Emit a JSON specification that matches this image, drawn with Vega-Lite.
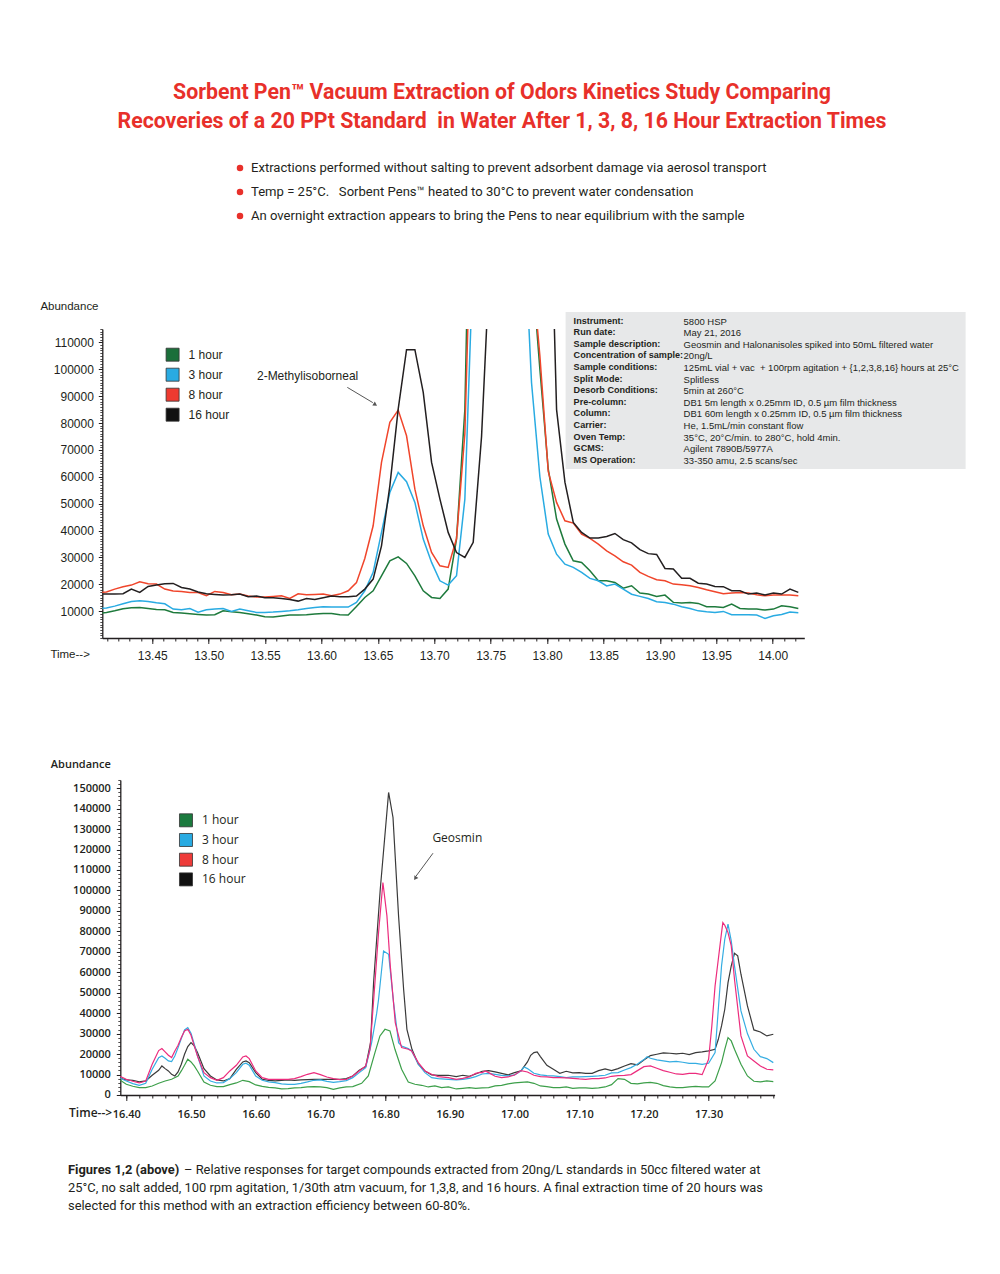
{
"$schema": "https://vega.github.io/schema/vega-lite/v6.json",
"background": "white",
"padding": {"left": 38.3, "top": 81, "right": 5, "bottom": 5},
"config": {"view": {"stroke": null}, "axis": {"grid": false}},
"title": {
  "text": ["Sorbent Pen™ Vacuum Extraction of Odors Kinetics Study Comparing", "Recoveries of a 20 PPt Standard\u00a0 in Water After 1, 3, 8, 16 Hour Extraction Times"],
  "anchor": "middle", "frame": "bounds",
  "font": "Roboto, sans-serif",
  "fontSize": 21.3, "fontWeight": "bold", "color": "#e8302a", "lineHeight": 29, "offset": 24
},
"datasets": {
  "bullets": [
    {"b": "Extractions performed without salting to prevent adsorbent damage via aerosol transport"},
    {"b": "Temp = 25°C.\u00a0\u00a0 Sorbent Pens™ heated to 30°C to prevent water condensation"},
    {"b": "An overnight extraction appears to bring the Pens to near equilibrium with the sample"}
  ],
  "series": [{"s": "1 hour"}, {"s": "3 hour"}, {"s": "8 hour"}, {"s": "16 hour"}],
  "top1": [{"t":13.4020,"v":9140},{"t":13.4094,"v":9520},{"t":13.4167,"v":10140},{"t":13.4241,"v":10880},{"t":13.4315,"v":11250},{"t":13.4389,"v":11380},{"t":13.4463,"v":11000},{"t":13.4537,"v":10630},{"t":13.4611,"v":10510},{"t":13.4685,"v":9520},{"t":13.4759,"v":9270},{"t":13.4833,"v":9020},{"t":13.4906,"v":8770},{"t":13.4980,"v":8520},{"t":13.5054,"v":8650},{"t":13.5128,"v":10140},{"t":13.5202,"v":9760},{"t":13.5276,"v":9520},{"t":13.5350,"v":9020},{"t":13.5424,"v":8520},{"t":13.5498,"v":7900},{"t":13.5571,"v":7780},{"t":13.5645,"v":8150},{"t":13.5719,"v":8520},{"t":13.5793,"v":8520},{"t":13.5867,"v":8650},{"t":13.5941,"v":8900},{"t":13.6015,"v":9140},{"t":13.6089,"v":9140},{"t":13.6163,"v":8650},{"t":13.6237,"v":8520},{"t":13.6310,"v":11700},{"t":13.6384,"v":15100},{"t":13.6458,"v":17570},{"t":13.6532,"v":23150},{"t":13.6606,"v":28730},{"t":13.6680,"v":30220},{"t":13.6754,"v":27760},{"t":13.6828,"v":23150},{"t":13.6902,"v":17570},{"t":13.6976,"v":15100},{"t":13.7050,"v":14730},{"t":13.7123,"v":18200},{"t":13.7197,"v":36800},{"t":13.7271,"v":85000},{"t":13.7345,"v":235000},{"t":13.7567,"v":400000},{"t":13.7862,"v":140000},{"t":13.7936,"v":100000},{"t":13.8010,"v":62900},{"t":13.8084,"v":44250},{"t":13.8158,"v":34950},{"t":13.8232,"v":28730},{"t":13.8306,"v":28140},{"t":13.8380,"v":25010},{"t":13.8454,"v":21290},{"t":13.8528,"v":21290},{"t":13.8601,"v":20690},{"t":13.8675,"v":18570},{"t":13.8749,"v":19430},{"t":13.8823,"v":16710},{"t":13.8897,"v":16340},{"t":13.8971,"v":15480},{"t":13.9045,"v":15970},{"t":13.9119,"v":13250},{"t":13.9193,"v":12990},{"t":13.9267,"v":13250},{"t":13.9340,"v":12880},{"t":13.9414,"v":11610},{"t":13.9488,"v":11610},{"t":13.9562,"v":11390},{"t":13.9636,"v":12620},{"t":13.9710,"v":11020},{"t":13.9784,"v":10760},{"t":13.9858,"v":10760},{"t":13.9932,"v":10380},{"t":14.0006,"v":10760},{"t":14.0079,"v":11980},{"t":14.0153,"v":11610},{"t":14.0227,"v":11020}],
  "top3": [{"t":13.4020,"v":11000},{"t":13.4094,"v":11130},{"t":13.4167,"v":11870},{"t":13.4241,"v":12740},{"t":13.4315,"v":13610},{"t":13.4389,"v":13860},{"t":13.4463,"v":13610},{"t":13.4537,"v":13110},{"t":13.4611,"v":12740},{"t":13.4685,"v":10760},{"t":13.4759,"v":10510},{"t":13.4833,"v":11000},{"t":13.4906,"v":9640},{"t":13.4980,"v":10510},{"t":13.5054,"v":10760},{"t":13.5128,"v":11000},{"t":13.5202,"v":9890},{"t":13.5276,"v":10760},{"t":13.5350,"v":10140},{"t":13.5424,"v":9520},{"t":13.5498,"v":9520},{"t":13.5571,"v":9640},{"t":13.5645,"v":9890},{"t":13.5719,"v":10140},{"t":13.5793,"v":10510},{"t":13.5867,"v":11000},{"t":13.5941,"v":11380},{"t":13.6015,"v":11620},{"t":13.6089,"v":11500},{"t":13.6163,"v":11500},{"t":13.6237,"v":11500},{"t":13.6310,"v":13250},{"t":13.6384,"v":17570},{"t":13.6458,"v":24420},{"t":13.6532,"v":39300},{"t":13.6606,"v":54200},{"t":13.6680,"v":61640},{"t":13.6754,"v":58170},{"t":13.6828,"v":50470},{"t":13.6902,"v":36800},{"t":13.6976,"v":28140},{"t":13.7050,"v":21290},{"t":13.7123,"v":19690},{"t":13.7197,"v":23150},{"t":13.7271,"v":51700},{"t":13.7345,"v":142000},{"t":13.7567,"v":400000},{"t":13.7789,"v":160000},{"t":13.7862,"v":95000},{"t":13.7936,"v":60000},{"t":13.8010,"v":38700},{"t":13.8084,"v":31200},{"t":13.8158,"v":27500},{"t":13.8232,"v":26300},{"t":13.8306,"v":24400},{"t":13.8380,"v":22200},{"t":13.8454,"v":21300},{"t":13.8528,"v":19400},{"t":13.8601,"v":20100},{"t":13.8675,"v":18200},{"t":13.8749,"v":16300},{"t":13.8823,"v":15500},{"t":13.8897,"v":14700},{"t":13.8971,"v":13500},{"t":13.9045,"v":13200},{"t":13.9119,"v":12600},{"t":13.9193,"v":11600},{"t":13.9267,"v":11000},{"t":13.9340,"v":10100},{"t":13.9414,"v":9750},{"t":13.9488,"v":9500},{"t":13.9562,"v":9900},{"t":13.9636,"v":8640},{"t":13.9710,"v":8640},{"t":13.9784,"v":8640},{"t":13.9858,"v":8520},{"t":13.9932,"v":7290},{"t":14.0006,"v":8270},{"t":14.0079,"v":8770},{"t":14.0153,"v":9700},{"t":14.0227,"v":9400}],
  "top8": [{"t":13.4020,"v":16960},{"t":13.4094,"v":17100},{"t":13.4167,"v":18200},{"t":13.4241,"v":19070},{"t":13.4315,"v":19690},{"t":13.4389,"v":20930},{"t":13.4463,"v":20190},{"t":13.4537,"v":20060},{"t":13.4611,"v":18200},{"t":13.4685,"v":17460},{"t":13.4759,"v":17330},{"t":13.4833,"v":16960},{"t":13.4906,"v":16960},{"t":13.4980,"v":15720},{"t":13.5054,"v":17330},{"t":13.5128,"v":16960},{"t":13.5202,"v":16090},{"t":13.5276,"v":16340},{"t":13.5350,"v":15600},{"t":13.5424,"v":15220},{"t":13.5498,"v":15220},{"t":13.5571,"v":15470},{"t":13.5645,"v":15720},{"t":13.5719,"v":14730},{"t":13.5793,"v":16460},{"t":13.5867,"v":16090},{"t":13.5941,"v":16210},{"t":13.6015,"v":16340},{"t":13.6089,"v":15720},{"t":13.6163,"v":16340},{"t":13.6237,"v":17580},{"t":13.6310,"v":20600},{"t":13.6384,"v":29600},{"t":13.6458,"v":41760},{"t":13.6532,"v":65350},{"t":13.6606,"v":80250},{"t":13.6680,"v":84830},{"t":13.6754,"v":75260},{"t":13.6828,"v":55400},{"t":13.6902,"v":41760},{"t":13.6976,"v":31860},{"t":13.7050,"v":26870},{"t":13.7123,"v":26270},{"t":13.7197,"v":37000},{"t":13.7271,"v":76000},{"t":13.7345,"v":187000},{"t":13.7567,"v":400000},{"t":13.7862,"v":140000},{"t":13.7936,"v":105000},{"t":13.8010,"v":62000},{"t":13.8084,"v":50470},{"t":13.8158,"v":43620},{"t":13.8232,"v":42770},{"t":13.8306,"v":38670},{"t":13.8380,"v":37070},{"t":13.8454,"v":34950},{"t":13.8528,"v":32460},{"t":13.8601,"v":30600},{"t":13.8675,"v":28360},{"t":13.8749,"v":27130},{"t":13.8823,"v":24420},{"t":13.8897,"v":22930},{"t":13.8971,"v":21660},{"t":13.9045,"v":21290},{"t":13.9119,"v":20060},{"t":13.9193,"v":19800},{"t":13.9267,"v":19430},{"t":13.9340,"v":18830},{"t":13.9414,"v":17940},{"t":13.9488,"v":17200},{"t":13.9562,"v":16450},{"t":13.9636,"v":16710},{"t":13.9710,"v":16970},{"t":13.9784,"v":16710},{"t":13.9858,"v":16080},{"t":13.9932,"v":15710},{"t":14.0006,"v":15970},{"t":14.0079,"v":15970},{"t":14.0153,"v":15970},{"t":14.0227,"v":15710}],
  "top16": [{"t":13.4020,"v":16340},{"t":13.4094,"v":16340},{"t":13.4167,"v":16340},{"t":13.4241,"v":16460},{"t":13.4315,"v":18200},{"t":13.4389,"v":16960},{"t":13.4463,"v":19200},{"t":13.4537,"v":19690},{"t":13.4611,"v":20190},{"t":13.4685,"v":20310},{"t":13.4759,"v":18820},{"t":13.4833,"v":18200},{"t":13.4906,"v":17090},{"t":13.4980,"v":16460},{"t":13.5054,"v":16210},{"t":13.5128,"v":15970},{"t":13.5202,"v":16090},{"t":13.5276,"v":16340},{"t":13.5350,"v":15350},{"t":13.5424,"v":15600},{"t":13.5498,"v":14980},{"t":13.5571,"v":14980},{"t":13.5645,"v":14730},{"t":13.5719,"v":14360},{"t":13.5793,"v":13730},{"t":13.5867,"v":14730},{"t":13.5941,"v":14360},{"t":13.6015,"v":14980},{"t":13.6089,"v":15600},{"t":13.6163,"v":15350},{"t":13.6237,"v":15350},{"t":13.6310,"v":15600},{"t":13.6384,"v":18200},{"t":13.6458,"v":21920},{"t":13.6532,"v":34300},{"t":13.6606,"v":56650},{"t":13.6680,"v":85200},{"t":13.6754,"v":107300},{"t":13.6828,"v":107300},{"t":13.6902,"v":91400},{"t":13.6976,"v":65350},{"t":13.7050,"v":51700},{"t":13.7123,"v":39300},{"t":13.7197,"v":31800},{"t":13.7271,"v":30000},{"t":13.7345,"v":35600},{"t":13.7419,"v":75000},{"t":13.7493,"v":141700},{"t":13.7715,"v":400000},{"t":13.8010,"v":200000},{"t":13.8084,"v":85000},{"t":13.8158,"v":58000},{"t":13.8232,"v":43000},{"t":13.8306,"v":39300},{"t":13.8380,"v":37200},{"t":13.8454,"v":37200},{"t":13.8528,"v":37800},{"t":13.8601,"v":38900},{"t":13.8675,"v":36600},{"t":13.8749,"v":35400},{"t":13.8823,"v":32900},{"t":13.8897,"v":31400},{"t":13.8971,"v":31100},{"t":13.9045,"v":25900},{"t":13.9119,"v":25700},{"t":13.9193,"v":22200},{"t":13.9267,"v":22200},{"t":13.9340,"v":20400},{"t":13.9414,"v":20100},{"t":13.9488,"v":19200},{"t":13.9562,"v":19100},{"t":13.9636,"v":17600},{"t":13.9710,"v":17600},{"t":13.9784,"v":16340},{"t":13.9858,"v":16700},{"t":13.9932,"v":15970},{"t":14.0006,"v":16700},{"t":14.0079,"v":16340},{"t":14.0153,"v":18200},{"t":14.0227,"v":16970}],
  "bot1": [{"t":16.390,"v":7350},{"t":16.400,"v":5240},{"t":16.410,"v":4260},{"t":16.420,"v":3610},{"t":16.430,"v":3610},{"t":16.440,"v":4420},{"t":16.450,"v":5720},{"t":16.460,"v":6860},{"t":16.470,"v":7680},{"t":16.480,"v":9310},{"t":16.485,"v":11760},{"t":16.490,"v":14530},{"t":16.495,"v":17460},{"t":16.500,"v":16160},{"t":16.505,"v":14200},{"t":16.510,"v":11760},{"t":16.520,"v":6380},{"t":16.530,"v":4750},{"t":16.540,"v":4100},{"t":16.550,"v":4100},{"t":16.560,"v":5070},{"t":16.570,"v":5890},{"t":16.580,"v":7190},{"t":16.590,"v":6540},{"t":16.600,"v":4910},{"t":16.610,"v":4260},{"t":16.620,"v":3770},{"t":16.630,"v":3440},{"t":16.640,"v":2950},{"t":16.650,"v":3110},{"t":16.660,"v":3440},{"t":16.670,"v":3610},{"t":16.680,"v":3930},{"t":16.690,"v":4100},{"t":16.700,"v":3930},{"t":16.710,"v":3610},{"t":16.720,"v":2790},{"t":16.730,"v":3440},{"t":16.740,"v":3930},{"t":16.750,"v":4100},{"t":16.7637,"v":5720},{"t":16.774,"v":9310},{"t":16.7843,"v":20720},{"t":16.792,"v":28870},{"t":16.7998,"v":32130},{"t":16.8075,"v":31320},{"t":16.8152,"v":22350},{"t":16.8255,"v":12570},{"t":16.8358,"v":6380},{"t":16.8461,"v":5240},{"t":16.8564,"v":4750},{"t":16.8667,"v":3930},{"t":16.877,"v":4420},{"t":16.8873,"v":3610},{"t":16.8977,"v":3930},{"t":16.91,"v":2950},{"t":16.92,"v":3280},{"t":16.93,"v":3610},{"t":16.94,"v":3280},{"t":16.95,"v":3440},{"t":16.96,"v":3610},{"t":16.97,"v":4420},{"t":16.98,"v":4750},{"t":16.99,"v":5400},{"t":17.00,"v":5890},{"t":17.01,"v":6210},{"t":17.02,"v":6380},{"t":17.03,"v":5720},{"t":17.04,"v":4420},{"t":17.05,"v":4100},{"t":17.06,"v":3610},{"t":17.07,"v":3610},{"t":17.08,"v":3930},{"t":17.09,"v":3280},{"t":17.10,"v":3440},{"t":17.11,"v":3440},{"t":17.12,"v":3280},{"t":17.13,"v":3440},{"t":17.14,"v":3930},{"t":17.15,"v":5070},{"t":17.16,"v":8000},{"t":17.17,"v":7680},{"t":17.18,"v":5720},{"t":17.19,"v":5400},{"t":17.20,"v":5890},{"t":17.21,"v":6210},{"t":17.22,"v":5720},{"t":17.23,"v":4580},{"t":17.24,"v":3930},{"t":17.25,"v":3610},{"t":17.26,"v":3610},{"t":17.27,"v":3930},{"t":17.28,"v":4260},{"t":17.29,"v":3930},{"t":17.30,"v":3930},{"t":17.31,"v":6860},{"t":17.32,"v":15830},{"t":17.325,"v":22350},{"t":17.33,"v":28060},{"t":17.335,"v":26430},{"t":17.34,"v":22350},{"t":17.35,"v":15020},{"t":17.36,"v":9310},{"t":17.37,"v":6700},{"t":17.38,"v":6380},{"t":17.39,"v":6860},{"t":17.40,"v":6540}],
  "bot3": [{"t":16.390,"v":8330},{"t":16.400,"v":6860},{"t":16.410,"v":5560},{"t":16.420,"v":4750},{"t":16.430,"v":5720},{"t":16.440,"v":12570},{"t":16.450,"v":18280},{"t":16.455,"v":19090},{"t":16.460,"v":17950},{"t":16.465,"v":16650},{"t":16.470,"v":16320},{"t":16.475,"v":19090},{"t":16.480,"v":23170},{"t":16.485,"v":27570},{"t":16.490,"v":31810},{"t":16.495,"v":32950},{"t":16.500,"v":30180},{"t":16.505,"v":24800},{"t":16.510,"v":19090},{"t":16.520,"v":9310},{"t":16.530,"v":6860},{"t":16.540,"v":5890},{"t":16.550,"v":6050},{"t":16.560,"v":8000},{"t":16.570,"v":10940},{"t":16.580,"v":15020},{"t":16.585,"v":15510},{"t":16.590,"v":14530},{"t":16.600,"v":9310},{"t":16.610,"v":7190},{"t":16.620,"v":6380},{"t":16.630,"v":6050},{"t":16.640,"v":5400},{"t":16.650,"v":5240},{"t":16.660,"v":5240},{"t":16.670,"v":5720},{"t":16.680,"v":6380},{"t":16.690,"v":7190},{"t":16.700,"v":7350},{"t":16.710,"v":6700},{"t":16.720,"v":6210},{"t":16.730,"v":6540},{"t":16.740,"v":7030},{"t":16.750,"v":8490},{"t":16.760,"v":10940},{"t":16.770,"v":13380},{"t":16.7792,"v":25610},{"t":16.787,"v":40000},{"t":16.7899,"v":46810},{"t":16.7976,"v":70430},{"t":16.8054,"v":68800},{"t":16.8131,"v":45190},{"t":16.8208,"v":25610},{"t":16.8255,"v":23980},{"t":16.8358,"v":22680},{"t":16.841,"v":21540},{"t":16.8513,"v":15020},{"t":16.8616,"v":10940},{"t":16.8719,"v":8490},{"t":16.8822,"v":8000},{"t":16.8977,"v":7680},{"t":16.91,"v":7350},{"t":16.92,"v":7680},{"t":16.93,"v":8170},{"t":16.94,"v":8980},{"t":16.95,"v":10280},{"t":16.96,"v":10610},{"t":16.97,"v":10120},{"t":16.98,"v":9640},{"t":16.99,"v":9310},{"t":17.00,"v":9800},{"t":17.01,"v":11760},{"t":17.015,"v":13710},{"t":17.02,"v":12900},{"t":17.03,"v":10610},{"t":17.04,"v":9800},{"t":17.05,"v":9470},{"t":17.06,"v":9310},{"t":17.07,"v":8980},{"t":17.08,"v":8490},{"t":17.09,"v":8820},{"t":17.10,"v":8820},{"t":17.11,"v":8980},{"t":17.12,"v":9150},{"t":17.13,"v":9310},{"t":17.14,"v":9640},{"t":17.15,"v":10780},{"t":17.16,"v":10940},{"t":17.17,"v":12240},{"t":17.18,"v":13380},{"t":17.19,"v":15180},{"t":17.20,"v":17300},{"t":17.205,"v":18770},{"t":17.21,"v":17950},{"t":17.22,"v":17140},{"t":17.23,"v":16650},{"t":17.24,"v":16160},{"t":17.25,"v":16480},{"t":17.26,"v":16000},{"t":17.27,"v":15500},{"t":17.28,"v":15500},{"t":17.29,"v":15020},{"t":17.30,"v":15500},{"t":17.31,"v":20720},{"t":17.315,"v":41920},{"t":17.32,"v":63110},{"t":17.325,"v":76150},{"t":17.33,"v":83490},{"t":17.335,"v":75340},{"t":17.34,"v":63110},{"t":17.35,"v":41100},{"t":17.36,"v":30020},{"t":17.37,"v":22350},{"t":17.38,"v":18770},{"t":17.39,"v":17790},{"t":17.40,"v":15830}],
  "bot8": [{"t":16.390,"v":9150},{"t":16.400,"v":7680},{"t":16.410,"v":6700},{"t":16.420,"v":5890},{"t":16.430,"v":6860},{"t":16.440,"v":15020},{"t":16.450,"v":21700},{"t":16.455,"v":22680},{"t":16.460,"v":21050},{"t":16.465,"v":19420},{"t":16.470,"v":18280},{"t":16.475,"v":21540},{"t":16.480,"v":24310},{"t":16.485,"v":28060},{"t":16.490,"v":31320},{"t":16.495,"v":32130},{"t":16.500,"v":29200},{"t":16.505,"v":23980},{"t":16.510,"v":19090},{"t":16.520,"v":10940},{"t":16.530,"v":8490},{"t":16.540,"v":7190},{"t":16.550,"v":8490},{"t":16.560,"v":11760},{"t":16.570,"v":14530},{"t":16.580,"v":18600},{"t":16.585,"v":19090},{"t":16.590,"v":17790},{"t":16.600,"v":11760},{"t":16.610,"v":8490},{"t":16.620,"v":7680},{"t":16.630,"v":7680},{"t":16.640,"v":7680},{"t":16.650,"v":7680},{"t":16.660,"v":8000},{"t":16.670,"v":8980},{"t":16.680,"v":10120},{"t":16.690,"v":10940},{"t":16.700,"v":9960},{"t":16.710,"v":8820},{"t":16.720,"v":8000},{"t":16.730,"v":7520},{"t":16.740,"v":7680},{"t":16.750,"v":9310},{"t":16.760,"v":11760},{"t":16.770,"v":14200},{"t":16.7766,"v":22350},{"t":16.7843,"v":55000},{"t":16.7899,"v":79430},{"t":16.7966,"v":103870},{"t":16.8028,"v":87560},{"t":16.808,"v":63110},{"t":16.8157,"v":35400},{"t":16.8234,"v":25610},{"t":16.8255,"v":23170},{"t":16.8358,"v":22350},{"t":16.841,"v":21540},{"t":16.8513,"v":15830},{"t":16.8616,"v":11760},{"t":16.8719,"v":10120},{"t":16.8822,"v":8980},{"t":16.8977,"v":8490},{"t":16.91,"v":7680},{"t":16.92,"v":8170},{"t":16.93,"v":8820},{"t":16.94,"v":10610},{"t":16.945,"v":10940},{"t":16.95,"v":10940},{"t":16.955,"v":11760},{"t":16.96,"v":10940},{"t":16.97,"v":9150},{"t":16.98,"v":8490},{"t":16.99,"v":8820},{"t":17.00,"v":9800},{"t":17.01,"v":11920},{"t":17.02,"v":11270},{"t":17.03,"v":9640},{"t":17.04,"v":8980},{"t":17.05,"v":8820},{"t":17.06,"v":8490},{"t":17.07,"v":8490},{"t":17.08,"v":8330},{"t":17.09,"v":8170},{"t":17.10,"v":7840},{"t":17.11,"v":7680},{"t":17.12,"v":8000},{"t":17.13,"v":8000},{"t":17.14,"v":8330},{"t":17.15,"v":9150},{"t":17.16,"v":9470},{"t":17.17,"v":9640},{"t":17.18,"v":9960},{"t":17.19,"v":11920},{"t":17.20,"v":13870},{"t":17.21,"v":14200},{"t":17.22,"v":13060},{"t":17.23,"v":11920},{"t":17.24,"v":11110},{"t":17.25,"v":10280},{"t":17.26,"v":10120},{"t":17.27,"v":10610},{"t":17.28,"v":10610},{"t":17.29,"v":9960},{"t":17.30,"v":17460},{"t":17.305,"v":33770},{"t":17.31,"v":53330},{"t":17.315,"v":66370},{"t":17.32,"v":79410},{"t":17.322,"v":84300},{"t":17.325,"v":83000},{"t":17.33,"v":79410},{"t":17.335,"v":72890},{"t":17.34,"v":56590},{"t":17.35,"v":28875},{"t":17.36,"v":19090},{"t":17.37,"v":16650},{"t":17.38,"v":14200},{"t":17.39,"v":12570},{"t":17.40,"v":12240}],
  "bot16": [{"t":16.390,"v":8330},{"t":16.400,"v":7350},{"t":16.410,"v":7190},{"t":16.420,"v":6380},{"t":16.430,"v":6860},{"t":16.440,"v":9640},{"t":16.450,"v":12080},{"t":16.455,"v":14200},{"t":16.460,"v":12900},{"t":16.465,"v":11760},{"t":16.470,"v":10120},{"t":16.475,"v":9310},{"t":16.480,"v":11270},{"t":16.485,"v":15020},{"t":16.490,"v":19910},{"t":16.495,"v":23660},{"t":16.500,"v":25610},{"t":16.505,"v":23980},{"t":16.510,"v":20720},{"t":16.520,"v":12900},{"t":16.530,"v":9310},{"t":16.540,"v":7350},{"t":16.550,"v":6860},{"t":16.560,"v":8000},{"t":16.570,"v":12570},{"t":16.580,"v":16160},{"t":16.585,"v":16650},{"t":16.590,"v":15830},{"t":16.600,"v":10940},{"t":16.610,"v":7680},{"t":16.620,"v":7190},{"t":16.630,"v":6860},{"t":16.640,"v":7190},{"t":16.650,"v":7350},{"t":16.660,"v":7190},{"t":16.670,"v":7350},{"t":16.680,"v":7520},{"t":16.690,"v":7680},{"t":16.700,"v":7680},{"t":16.710,"v":7680},{"t":16.720,"v":7680},{"t":16.730,"v":7680},{"t":16.740,"v":8000},{"t":16.750,"v":9310},{"t":16.760,"v":12080},{"t":16.770,"v":13870},{"t":16.7775,"v":25610},{"t":16.7822,"v":54970},{"t":16.7925,"v":100600},{"t":16.8054,"v":147900},{"t":16.8122,"v":135670},{"t":16.8208,"v":87550},{"t":16.8286,"v":51700},{"t":16.8337,"v":32130},{"t":16.8415,"v":22350},{"t":16.8513,"v":15020},{"t":16.8616,"v":11760},{"t":16.8719,"v":9800},{"t":16.8822,"v":9640},{"t":16.8977,"v":9640},{"t":16.91,"v":8980},{"t":16.92,"v":9640},{"t":16.93,"v":9150},{"t":16.94,"v":10280},{"t":16.95,"v":11600},{"t":16.96,"v":11920},{"t":16.97,"v":11270},{"t":16.98,"v":10610},{"t":16.99,"v":9800},{"t":17.00,"v":10940},{"t":17.01,"v":11760},{"t":17.02,"v":16160},{"t":17.025,"v":19420},{"t":17.03,"v":20720},{"t":17.035,"v":21050},{"t":17.04,"v":18770},{"t":17.05,"v":14530},{"t":17.06,"v":12570},{"t":17.07,"v":10610},{"t":17.08,"v":11600},{"t":17.09,"v":10780},{"t":17.10,"v":10940},{"t":17.11,"v":10610},{"t":17.12,"v":10610},{"t":17.13,"v":11920},{"t":17.14,"v":12730},{"t":17.15,"v":11920},{"t":17.16,"v":12900},{"t":17.17,"v":14200},{"t":17.18,"v":15340},{"t":17.19,"v":14690},{"t":17.20,"v":17140},{"t":17.21,"v":19250},{"t":17.22,"v":19910},{"t":17.23,"v":20560},{"t":17.24,"v":20400},{"t":17.25,"v":20070},{"t":17.26,"v":20400},{"t":17.27,"v":19740},{"t":17.28,"v":20720},{"t":17.29,"v":21050},{"t":17.30,"v":21540},{"t":17.31,"v":22350},{"t":17.315,"v":27240},{"t":17.32,"v":33770},{"t":17.325,"v":41920},{"t":17.33,"v":54960},{"t":17.335,"v":63110},{"t":17.34,"v":69310},{"t":17.345,"v":68000},{"t":17.35,"v":59040},{"t":17.36,"v":43550},{"t":17.37,"v":31810},{"t":17.38,"v":30830},{"t":17.39,"v":28875},{"t":17.40,"v":29690}]
},
"spacing": 72,
"resolve": {"scale": {"fill": "independent"}, "legend": {"fill": "independent"}},
"vconcat": [
  {
    "width": 403.4, "height": 72,
    "data": {"name": "bullets"},
    "encoding": {"y": {"field": "b", "type": "nominal", "sort": null, "axis": null}},
    "layer": [
      {"mark": {"type": "point", "filled": true, "color": "#e8302a", "size": 42, "opacity": 1}},
      {"mark": {"type": "text", "align": "left", "baseline": "middle", "dx": 11, "font": "Roboto, sans-serif", "fontSize": 13.1, "color": "#231f20"}, "encoding": {"text": {"field": "b"}}}
    ]
  },
  {
    "spacing": 96,
    "resolve": {"scale": {"fill": "independent"}, "legend": {"fill": "independent"}},
    "vconcat": [
      {
        "spacing": 0,
        "resolve": {"scale": {"fill": "independent"}, "legend": {"fill": "independent"}},
        "hconcat": [
          {"width": 1, "height": 10, "data": {"values": [{}]}, "mark": {"type": "text", "text": ""}},
          {
            "width": 702, "height": 309,
            "resolve": {"axis": {"x": "independent", "y": "independent"}},
            "layer": [
              {"data": {"values": [{}]}, "mark": {"type": "rect", "color": "#e7e8e9"},
               "encoding": {"x": {"datum": 13.8164, "type": "quantitative", "scale": {"domain": [13.4057, 14.028], "nice": false, "zero": false}, "axis": null}, "x2": {"datum": 14.171}, "y": {"datum": 121300, "type": "quantitative", "scale": {"domain": [0, 115000], "nice": false, "zero": false}, "axis": null}, "y2": {"datum": 62870}}},
              {"data": {"values": [{}]}, "mark": {"type": "text", "text": ["Instrument:", "Run date:", "Sample description:", "Concentration of sample:", "Sample conditions:", "Split Mode:", "Desorb Conditions:", "Pre-column:", "Column:", "Carrier:", "Oven Temp:", "GCMS:", "MS Operation:"], "align": "left", "baseline": "top", "lineHeight": 11.6, "font": "Liberation Sans, Arial, sans-serif", "fontSize": 9.1, "fontWeight": "bold", "color": "#231f20"},
               "encoding": {"x": {"datum": 13.8235, "type": "quantitative", "scale": {"domain": [13.4057, 14.028], "nice": false, "zero": false}, "axis": null}, "y": {"datum": 119600, "type": "quantitative", "scale": {"domain": [0, 115000], "nice": false, "zero": false}, "axis": null}}},
              {"data": {"values": [{}]}, "mark": {"type": "text", "text": ["5800 HSP", "May 21, 2016", "Geosmin and Halonanisoles spiked into 50mL filtered water", "20ng/L", "125mL vial + vac\u00a0 + 100rpm agitation + {1,2,3,8,16} hours at 25°C", "Splitless", "5min at 260°C", "DB1 5m length x 0.25mm ID, 0.5 µm film thickness", "DB1 60m length x 0.25mm ID, 0.5 µm film thickness", "He, 1.5mL/min constant flow", "35°C, 20°C/min. to 280°C, hold 4min.", "Agilent 7890B/5977A", "33-350 amu, 2.5 scans/sec"], "align": "left", "baseline": "top", "lineHeight": 11.6, "font": "Liberation Sans, Arial, sans-serif", "fontSize": 9.5, "color": "#231f20"},
               "encoding": {"x": {"datum": 13.921, "type": "quantitative", "scale": {"domain": [13.4057, 14.028], "nice": false, "zero": false}, "axis": null}, "y": {"datum": 119600, "type": "quantitative", "scale": {"domain": [0, 115000], "nice": false, "zero": false}, "axis": null}}},
              {"data": {"name": "top1"}, "mark": {"type": "line", "clip": true, "strokeWidth": 1.5, "color": "#1e7a3c"},
               "encoding": {
                 "x": {"field": "t", "type": "quantitative", "scale": {"domain": [13.4057, 14.028], "nice": false, "zero": false}, "axis": {"orient": "bottom", "tickCount": 62, "labels": false, "domain": false, "tickSize": 3, "tickColor": "#231f20", "tickWidth": 1, "title": null, "grid": false}},
                 "y": {"field": "v", "type": "quantitative", "scale": {"domain": [0, 115000], "nice": false, "zero": false}, "axis": {"orient": "left", "tickCount": 115, "labels": false, "domain": false, "tickSize": 2.5, "tickColor": "#231f20", "tickWidth": 0.8, "title": null, "grid": false}}}},
              {"data": {"name": "top3"}, "mark": {"type": "line", "clip": true, "strokeWidth": 1.5, "color": "#29abe2"},
               "encoding": {
                 "x": {"field": "t", "type": "quantitative", "scale": {"domain": [13.4057, 14.028], "nice": false, "zero": false}, "axis": {"orient": "bottom", "values": [13.45, 13.5, 13.55, 13.6, 13.65, 13.7, 13.75, 13.8, 13.85, 13.9, 13.95, 14.0], "format": ".2f", "tickSize": 5.5, "tickColor": "#231f20", "tickWidth": 1, "domainColor": "#231f20", "domainWidth": 1.3, "labelFont": "Liberation Sans, Arial, sans-serif", "labelFontSize": 12, "labelColor": "#231f20", "labelPadding": 7, "labelOverlap": false, "labelFlush": false, "grid": false, "title": "Time-->", "titleFont": "Liberation Sans, Arial, sans-serif", "titleFontSize": 11.5, "titleFontWeight": "normal", "titleColor": "#231f20", "titleX": -52.4, "titleY": 16.8, "titleAlign": "left", "titleBaseline": "middle", "titleAngle": 0}},
                 "y": {"field": "v", "type": "quantitative", "scale": {"domain": [0, 115000], "nice": false, "zero": false}, "axis": {"orient": "left", "values": [10000, 20000, 30000, 40000, 50000, 60000, 70000, 80000, 90000, 100000, 110000], "format": "d", "tickSize": 4, "tickColor": "#231f20", "tickWidth": 1, "domainColor": "#231f20", "domainWidth": 1.3, "labelFont": "Liberation Sans, Arial, sans-serif", "labelFontSize": 12, "labelColor": "#231f20", "labelPadding": 5, "labelOverlap": false, "grid": false, "title": "Abundance", "titleFont": "Liberation Sans, Arial, sans-serif", "titleFontSize": 11.5, "titleFontWeight": "normal", "titleColor": "#231f20", "titleAngle": 0, "titleX": -62.4, "titleY": -22.3, "titleAlign": "left", "titleBaseline": "middle"}}}},
              {"data": {"name": "top8"}, "mark": {"type": "line", "clip": true, "strokeWidth": 1.5, "color": "#f0452b"},
               "encoding": {"x": {"field": "t", "type": "quantitative", "scale": {"domain": [13.4057, 14.028], "nice": false, "zero": false}, "axis": null}, "y": {"field": "v", "type": "quantitative", "scale": {"domain": [0, 115000], "nice": false, "zero": false}, "axis": null}}},
              {"data": {"name": "top16"}, "mark": {"type": "line", "clip": true, "strokeWidth": 1.5, "color": "#231f20"},
               "encoding": {"x": {"field": "t", "type": "quantitative", "scale": {"domain": [13.4057, 14.028], "nice": false, "zero": false}, "axis": null}, "y": {"field": "v", "type": "quantitative", "scale": {"domain": [0, 115000], "nice": false, "zero": false}, "axis": null}}},
              {"data": {"values": [{}]}, "mark": {"type": "text", "text": "2-Methylisoborneal", "font": "Liberation Sans, Arial, sans-serif", "fontSize": 12, "color": "#231f20"},
               "encoding": {"x": {"datum": 13.5877, "type": "quantitative", "scale": {"domain": [13.4057, 14.028], "nice": false, "zero": false}, "axis": null}, "y": {"datum": 97370, "type": "quantitative", "scale": {"domain": [0, 115000], "nice": false, "zero": false}, "axis": null}}},
              {"data": {"values": [{}]}, "mark": {"type": "rule", "color": "#555555", "strokeWidth": 1},
               "encoding": {"x": {"datum": 13.6229, "type": "quantitative", "scale": {"domain": [13.4057, 14.028], "nice": false, "zero": false}, "axis": null}, "x2": {"datum": 13.6455}, "y": {"datum": 93270, "type": "quantitative", "scale": {"domain": [0, 115000], "nice": false, "zero": false}, "axis": null}, "y2": {"datum": 87600}}},
              {"data": {"values": [{}]}, "mark": {"type": "point", "shape": "triangle", "filled": true, "color": "#555555", "size": 22, "angle": 122, "opacity": 1},
               "encoding": {"x": {"datum": 13.6472, "type": "quantitative", "scale": {"domain": [13.4057, 14.028], "nice": false, "zero": false}, "axis": null}, "y": {"datum": 87000, "type": "quantitative", "scale": {"domain": [0, 115000], "nice": false, "zero": false}, "axis": null}}},
              {"data": {"name": "series"}, "mark": {"type": "point", "shape": "square", "filled": true, "size": 0, "stroke": "#333333", "strokeWidth": 0.8},
               "encoding": {"fill": {"field": "s", "type": "nominal", "sort": null, "scale": {"domain": ["1 hour", "3 hour", "8 hour", "16 hour"], "range": ["#1b6f3a", "#29abe2", "#ee3a30", "#111111"]},
                 "legend": {"orient": "none", "legendX": 63.3, "legendY": 18.7, "title": null, "padding": 0, "symbolType": "square", "symbolSize": 169, "symbolStrokeColor": "#333333", "symbolStrokeWidth": 0.8, "symbolOpacity": 1, "labelFont": "Liberation Sans, Arial, sans-serif", "labelFontSize": 12, "labelColor": "#231f20", "labelOffset": 9, "rowPadding": 2}}}}
            ]
          }
        ]
      },
      {
        "spacing": 41,
        "resolve": {"scale": {"fill": "independent"}, "legend": {"fill": "independent"}},
        "vconcat": [
          {
            "spacing": 0,
            "resolve": {"scale": {"fill": "independent"}, "legend": {"fill": "independent"}},
            "hconcat": [
              {"width": 11.7, "height": 10, "data": {"values": [{}]}, "mark": {"type": "text", "text": ""}},
              {
                "width": 654.3, "height": 315,
                "resolve": {"axis": {"x": "independent", "y": "independent"}},
                "layer": [
                  {"data": {"name": "bot1"}, "mark": {"type": "line", "clip": true, "strokeWidth": 1.2, "color": "#3d9f4a"},
                   "encoding": {
                     "x": {"field": "t", "type": "quantitative", "scale": {"domain": [16.3907, 17.402], "nice": false, "zero": false}, "axis": {"orient": "bottom", "tickCount": 50, "labels": false, "domain": false, "tickSize": 3, "tickColor": "#231f20", "tickWidth": 1, "title": null, "grid": false}},
                     "y": {"field": "v", "type": "quantitative", "scale": {"domain": [0, 154000], "nice": false, "zero": false}, "axis": {"orient": "left", "tickCount": 77, "labels": false, "domain": false, "tickSize": 2.5, "tickColor": "#231f20", "tickWidth": 0.8, "title": null, "grid": false}}}},
                  {"data": {"name": "bot16"}, "mark": {"type": "line", "clip": true, "strokeWidth": 1.2, "color": "#3a3a3a"},
                   "encoding": {
                     "x": {"field": "t", "type": "quantitative", "scale": {"domain": [16.3907, 17.402], "nice": false, "zero": false}, "axis": {"orient": "bottom", "values": [16.4, 16.5, 16.6, 16.7, 16.8, 16.9, 17.0, 17.1, 17.2, 17.3], "format": ".2f", "tickSize": 5.5, "tickColor": "#231f20", "tickWidth": 1, "domainColor": "#231f20", "domainWidth": 1.3, "labelFont": "Open Sans, sans-serif", "labelFontSize": 11, "labelFontWeight": 600, "labelColor": "#231f20", "labelPadding": 8, "labelOverlap": false, "labelFlush": false, "grid": false, "title": "Time-->", "titleFont": "Open Sans, sans-serif", "titleFontSize": 12, "titleFontWeight": 600, "titleColor": "#231f20", "titleX": -51.7, "titleY": 17.6, "titleAlign": "left", "titleBaseline": "middle", "titleAngle": 0}},
                     "y": {"field": "v", "type": "quantitative", "scale": {"domain": [0, 154000], "nice": false, "zero": false}, "axis": {"orient": "left", "values": [0, 10000, 20000, 30000, 40000, 50000, 60000, 70000, 80000, 90000, 100000, 110000, 120000, 130000, 140000, 150000], "format": "d", "tickSize": 4, "tickColor": "#231f20", "tickWidth": 1, "domainColor": "#231f20", "domainWidth": 1.3, "labelFont": "Open Sans, sans-serif", "labelFontSize": 11, "labelFontWeight": 600, "labelColor": "#231f20", "labelPadding": 6, "labelOverlap": false, "grid": false, "title": "Abundance", "titleFont": "Open Sans, sans-serif", "titleFontSize": 11, "titleFontWeight": 600, "titleColor": "#231f20", "titleAngle": 0, "titleX": -70, "titleY": -15.7, "titleAlign": "left", "titleBaseline": "middle"}}}},
                  {"data": {"name": "bot3"}, "mark": {"type": "line", "clip": true, "strokeWidth": 1.2, "color": "#35ade2"},
                   "encoding": {"x": {"field": "t", "type": "quantitative", "scale": {"domain": [16.3907, 17.402], "nice": false, "zero": false}, "axis": null}, "y": {"field": "v", "type": "quantitative", "scale": {"domain": [0, 154000], "nice": false, "zero": false}, "axis": null}}},
                  {"data": {"name": "bot8"}, "mark": {"type": "line", "clip": true, "strokeWidth": 1.2, "color": "#ec2c7d"},
                   "encoding": {"x": {"field": "t", "type": "quantitative", "scale": {"domain": [16.3907, 17.402], "nice": false, "zero": false}, "axis": null}, "y": {"field": "v", "type": "quantitative", "scale": {"domain": [0, 154000], "nice": false, "zero": false}, "axis": null}}},
                  {"data": {"values": [{}]}, "mark": {"type": "text", "text": "Geosmin", "font": "Open Sans, sans-serif", "fontSize": 12, "color": "#231f20"},
                   "encoding": {"x": {"datum": 16.9116, "type": "quantitative", "scale": {"domain": [16.3907, 17.402], "nice": false, "zero": false}, "axis": null}, "y": {"datum": 125540, "type": "quantitative", "scale": {"domain": [0, 154000], "nice": false, "zero": false}, "axis": null}}},
                  {"data": {"values": [{}]}, "mark": {"type": "rule", "color": "#555555", "strokeWidth": 1},
                   "encoding": {"x": {"datum": 16.874, "type": "quantitative", "scale": {"domain": [16.3907, 17.402], "nice": false, "zero": false}, "axis": null}, "x2": {"datum": 16.8478}, "y": {"datum": 118210, "type": "quantitative", "scale": {"domain": [0, 154000], "nice": false, "zero": false}, "axis": null}, "y2": {"datum": 107000}}},
                  {"data": {"values": [{}]}, "mark": {"type": "point", "shape": "triangle", "filled": true, "color": "#555555", "size": 22, "angle": 213.5, "opacity": 1},
                   "encoding": {"x": {"datum": 16.8472, "type": "quantitative", "scale": {"domain": [16.3907, 17.402], "nice": false, "zero": false}, "axis": null}, "y": {"datum": 106200, "type": "quantitative", "scale": {"domain": [0, 154000], "nice": false, "zero": false}, "axis": null}}},
                  {"data": {"name": "series"}, "mark": {"type": "point", "shape": "square", "filled": true, "size": 0, "stroke": "#333333", "strokeWidth": 0.8},
                   "encoding": {"fill": {"field": "s", "type": "nominal", "sort": null, "scale": {"domain": ["1 hour", "3 hour", "8 hour", "16 hour"], "range": ["#1b7a3e", "#29abe2", "#ee3b39", "#111111"]},
                     "legend": {"orient": "none", "legendX": 58.7, "legendY": 33.3, "title": null, "padding": 0, "symbolType": "square", "symbolSize": 169, "symbolStrokeColor": "#333333", "symbolStrokeWidth": 0.8, "symbolOpacity": 1, "labelFont": "Open Sans, sans-serif", "labelFontSize": 12, "labelColor": "#231f20", "labelOffset": 9, "rowPadding": 1.7}}}}
                ]
              }
            ]
          },
          {
            "width": 59.4, "height": 54,
            "layer": [
              {"data": {"values": [{"l": "a", "txt": "Figures 1,2 (above)"}]}, "mark": {"type": "text", "align": "left", "baseline": "middle", "font": "Roboto, sans-serif", "fontSize": 12.9, "fontWeight": "bold", "color": "#231f20"},
               "encoding": {"y": {"field": "l", "type": "nominal", "scale": {"domain": ["a", "b", "c"]}, "axis": null}, "text": {"field": "txt"}}},
              {"data": {"values": [{"l": "a", "txt": "– Relative responses for target compounds extracted from 20ng/L standards in 50cc filtered water at"}]}, "mark": {"type": "text", "align": "left", "baseline": "middle", "dx": 116, "font": "Roboto, sans-serif", "fontSize": 12.9, "color": "#231f20"},
               "encoding": {"y": {"field": "l", "type": "nominal", "scale": {"domain": ["a", "b", "c"]}, "axis": null}, "text": {"field": "txt"}}},
              {"data": {"values": [{"l": "b", "txt": "25°C, no salt added, 100 rpm agitation, 1/30th atm vacuum, for 1,3,8, and 16 hours. A final extraction time of 20 hours was"}, {"l": "c", "txt": "selected for this method with an extraction efficiency between 60-80%."}]}, "mark": {"type": "text", "align": "left", "baseline": "middle", "font": "Roboto, sans-serif", "fontSize": 12.9, "color": "#231f20"},
               "encoding": {"y": {"field": "l", "type": "nominal", "scale": {"domain": ["a", "b", "c"]}, "axis": null}, "text": {"field": "txt"}}}
            ]
          }
        ]
      }
    ]
  }
]
}
